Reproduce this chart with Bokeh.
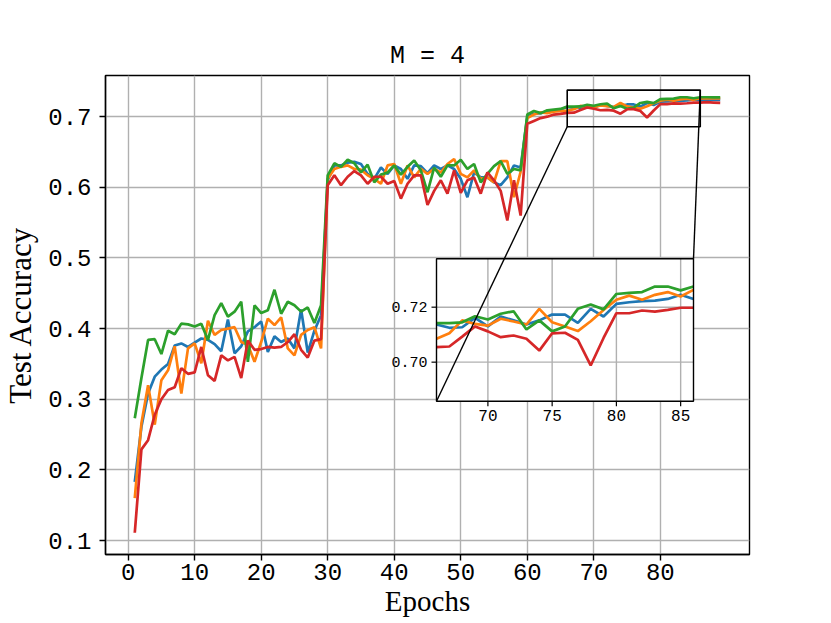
from bokeh.plotting import figure
from bokeh.models import Range1d, FixedTicker
from bokeh.core.properties import value
from bokeh.embed import file_html
from bokeh.resources import INLINE

# ---------------- data ----------------
epochs = list(range(1, 90))

blue = [0.183, 0.261, 0.308, 0.332, 0.342, 0.350, 0.376, 0.379, 0.374, 0.380,
        0.386, 0.384, 0.378, 0.368, 0.413, 0.365, 0.375, 0.396, 0.402, 0.410,
        0.367, 0.389, 0.381, 0.386, 0.372, 0.427, 0.366, 0.397, 0.419,
        0.610, 0.631, 0.631, 0.635, 0.636, 0.633, 0.619, 0.612, 0.628, 0.619,
        0.631, 0.626, 0.612, 0.631, 0.630, 0.620, 0.631, 0.626, 0.631, 0.626,
        0.612, 0.586, 0.621, 0.614, 0.614, 0.607, 0.603, 0.614, 0.631, 0.628,
        0.700, 0.704, 0.705, 0.707, 0.708, 0.710,
        0.7137, 0.7125, 0.7127, 0.7161, 0.7130, 0.7166, 0.7152, 0.7137, 0.7152, 0.7173,
        0.7173, 0.7143, 0.7194, 0.7166, 0.7212, 0.7218, 0.7222, 0.7224, 0.7230, 0.7245,
        0.7230, 0.7235, 0.7240, 0.7238]

orange = [0.160, 0.266, 0.320, 0.264, 0.327, 0.341, 0.375, 0.308, 0.372, 0.379,
          0.351, 0.411, 0.391, 0.398, 0.400, 0.402, 0.381, 0.377, 0.353, 0.381,
          0.414, 0.405, 0.416, 0.372, 0.362, 0.391, 0.398, 0.402, 0.372,
          0.612, 0.626, 0.629, 0.631, 0.626, 0.625, 0.617, 0.612, 0.605, 0.631,
          0.633, 0.605, 0.631, 0.614, 0.626, 0.619, 0.626, 0.621, 0.633, 0.640,
          0.619, 0.614, 0.624, 0.612, 0.614, 0.607, 0.637, 0.637, 0.586, 0.622,
          0.698, 0.703, 0.706, 0.705, 0.707, 0.708,
          0.7085, 0.7105, 0.7152, 0.7139, 0.7133, 0.7158, 0.7148, 0.7137, 0.7194, 0.7145,
          0.7130, 0.7113, 0.7149, 0.7190, 0.7227, 0.7242, 0.7227, 0.7245, 0.7255, 0.7239,
          0.7263, 0.7260, 0.7262, 0.7260]

green = [0.273, 0.330, 0.384, 0.385, 0.364, 0.397, 0.392, 0.407, 0.406, 0.403,
         0.407, 0.384, 0.419, 0.436, 0.417, 0.424, 0.438, 0.353, 0.433, 0.422,
         0.426, 0.455, 0.421, 0.438, 0.433, 0.424, 0.430, 0.408, 0.433,
         0.617, 0.634, 0.629, 0.639, 0.634, 0.621, 0.632, 0.607, 0.618, 0.621,
         0.631, 0.618, 0.629, 0.638, 0.624, 0.593, 0.628, 0.615, 0.631, 0.631,
         0.639, 0.626, 0.633, 0.607, 0.619, 0.630, 0.637, 0.619, 0.626, 0.624,
         0.703, 0.708, 0.705, 0.709, 0.710, 0.711,
         0.7142, 0.7142, 0.7145, 0.7167, 0.7155, 0.7176, 0.7185, 0.7119, 0.7152, 0.7112,
         0.7130, 0.7194, 0.7210, 0.7192, 0.7248, 0.7252, 0.7255, 0.7275, 0.7275, 0.7261,
         0.7275, 0.7275, 0.7272, 0.7272]

red = [0.111, 0.229, 0.242, 0.278, 0.300, 0.313, 0.317, 0.344, 0.336, 0.338,
       0.374, 0.334, 0.326, 0.362, 0.355, 0.360, 0.330, 0.383, 0.370, 0.371,
       0.374, 0.373, 0.374, 0.381, 0.392, 0.370, 0.359, 0.383, 0.385,
       0.603, 0.617, 0.603, 0.615, 0.623, 0.617, 0.605, 0.615, 0.615, 0.605,
       0.609, 0.584, 0.605, 0.617, 0.617, 0.575, 0.595, 0.610, 0.591, 0.624,
       0.592, 0.610, 0.614, 0.591, 0.621, 0.610, 0.595, 0.553, 0.610, 0.560,
       0.690, 0.694, 0.698, 0.700, 0.703, 0.704,
       0.7055, 0.7057, 0.7093, 0.7130, 0.7112, 0.7091, 0.7097, 0.7085, 0.7042, 0.7105,
       0.7107, 0.7081, 0.6988, 0.7088, 0.7178, 0.7178, 0.7188, 0.7184, 0.7190, 0.7198,
       0.7198, 0.7205, 0.7200, 0.7195]

series = [("blue", blue, "#1f77b4"), ("orange", orange, "#ff7f0e"),
          ("green", green, "#2ca02c"), ("red", red, "#d62728")]

x_ticks = [0, 10, 20, 30, 40, 50, 60, 70, 80]
y_ticks = [0.1, 0.2, 0.3, 0.4, 0.5, 0.6, 0.7]
inset_x_ticks = [70, 75, 80, 85]
inset_y_ticks = [0.70, 0.72]
inset_y_tick_labels = ["0.70", "0.72"]
title_text = "M = 4"
x_label = "Epochs"
y_label = "Test Accuracy"

# zoomed region (data units)
IX0, IX1 = 66, 86
IY0, IY1 = 0.6858, 0.7376

# ---------------- layout ----------------
FW, FH = 644, 479
X0, X1 = -3.4, 93.4
Y0, Y1 = 0.0802, 0.7583
# inset rectangle inside the frame, pixels from frame left / top
L, R, T, B = 331.0, 588.0, 183.3, 325.7

sx = (R - L) / (IX1 - IX0)
sy = (B - T) / (IY1 - IY0)
ixs, ixe = IX0 - L / sx, IX1 + (FW - R) / sx
iys, iye = IY0 - (FH - B) / sy, IY1 + T / sy


def mx(px):
    return X0 + px / FW * (X1 - X0)


def my(py):
    return Y1 - py / FH * (Y1 - Y0)


MONO = "Liberation Mono"
SERIF = "Liberation Serif"

p = figure(frame_width=FW, frame_height=FH,
           x_range=Range1d(X0, X1), y_range=Range1d(Y0, Y1),
           output_backend="svg", toolbar_location=None,
           min_border_left=104, min_border_right=75,
           min_border_top=75, min_border_bottom=60)
p.background_fill_color = "white"
p.border_fill_color = "white"
p.outline_line_color = "black"
p.outline_line_width = 1.4
p.outline_line_alpha = 1.0

p.title.text = title_text
p.title.align = "center"
p.title.text_font = MONO
p.title.text_font_size = "25px"
p.title.text_font_style = "normal"
p.title.text_color = "black"
p.title.standoff = 10

p.extra_x_ranges = {"ix": Range1d(ixs, ixe)}
p.extra_y_ranges = {"iy": Range1d(iys, iye)}

for ax in (p.xaxis[0], p.yaxis[0]):
    ax.axis_line_color = "black"
    ax.axis_line_width = 1.4
    ax.major_tick_line_color = "black"
    ax.major_tick_line_width = 1.4
    ax.major_tick_out = 6
    ax.major_tick_in = 0
    ax.minor_tick_line_color = None
    ax.major_label_text_font = MONO
    ax.major_label_text_font_size = "24px"
    ax.major_label_text_color = "black"
    ax.axis_label_text_font = SERIF
    ax.axis_label_text_font_style = "normal"
    ax.axis_label_text_color = "black"
p.xaxis.ticker = FixedTicker(ticks=x_ticks)
p.yaxis.ticker = FixedTicker(ticks=y_ticks)
p.xaxis.major_label_standoff = 3
p.yaxis.major_label_standoff = 8
p.xaxis.axis_label = x_label
p.xaxis.axis_label_text_font_size = "29px"
p.xaxis.axis_label_standoff = 2
p.yaxis.axis_label = y_label
p.yaxis.axis_label_text_font_size = "31px"
p.yaxis.axis_label_standoff = 7

p.xgrid.ticker = FixedTicker(ticks=x_ticks)
p.ygrid.ticker = FixedTicker(ticks=y_ticks)
p.grid.grid_line_color = "#b0b0b0"
p.grid.grid_line_width = 1.4
p.grid.grid_line_alpha = 1.0

# main lines
for name, vals, col in series:
    p.line(epochs, vals, line_color=col, line_width=2.7)

# inset background
p.quad(left=[IX0], right=[IX1], bottom=[IY0], top=[IY1],
       fill_color="white", line_color=None,
       x_range_name="ix", y_range_name="iy")
# inset grid
p.segment(x0=inset_x_ticks, x1=inset_x_ticks,
          y0=[IY0] * len(inset_x_ticks), y1=[IY1] * len(inset_x_ticks),
          line_color="#b0b0b0", line_width=1.4,
          x_range_name="ix", y_range_name="iy")
p.segment(x0=[IX0] * len(inset_y_ticks), x1=[IX1] * len(inset_y_ticks),
          y0=inset_y_ticks, y1=inset_y_ticks,
          line_color="#b0b0b0", line_width=1.4,
          x_range_name="ix", y_range_name="iy")

# inset lines
sel = [i for i, e in enumerate(epochs) if IX0 <= e <= IX1]
ie = [epochs[i] for i in sel]
for name, vals, col in series:
    p.line(ie, [vals[i] for i in sel], line_color=col, line_width=2.7,
           x_range_name="ix", y_range_name="iy")

# inset frame
p.quad(left=[IX0], right=[IX1], bottom=[IY0], top=[IY1],
       fill_color=None, line_color="black", line_width=1.4,
       x_range_name="ix", y_range_name="iy")
# inset ticks
tl = 5
p.segment(x0=[IX0 - tl / sx] * len(inset_y_ticks), x1=[IX0] * len(inset_y_ticks),
          y0=inset_y_ticks, y1=inset_y_ticks, line_color="black", line_width=1.2,
          x_range_name="ix", y_range_name="iy")
p.segment(x0=inset_x_ticks, x1=inset_x_ticks,
          y0=[IY0 - tl / sy] * len(inset_x_ticks), y1=[IY0] * len(inset_x_ticks),
          line_color="black", line_width=1.2,
          x_range_name="ix", y_range_name="iy")
p.text(x=[IX0] * len(inset_y_ticks), y=inset_y_ticks, text=inset_y_tick_labels,
       x_offset=-9, text_align="right", text_baseline="middle",
       text_font=value(MONO), text_font_size="15px", text_color="black",
       x_range_name="ix", y_range_name="iy")
p.text(x=inset_x_ticks, y=[IY0] * len(inset_x_ticks),
       text=[str(t) for t in inset_x_ticks],
       y_offset=9, text_align="center", text_baseline="top",
       text_font=value(MONO), text_font_size="16px", text_color="black",
       x_range_name="ix", y_range_name="iy")

# zoom box in main axes
p.quad(left=[IX0], right=[IX1], bottom=[IY0], top=[IY1],
       fill_color=None, line_color="black", line_width=1.6)
# connectors
p.segment(x0=[IX0, IX1], y0=[IY0, IY1], x1=[mx(L), mx(R)], y1=[my(B), my(T)],
          line_color="black", line_width=1.4)

open("out.html", "w").write(file_html(p, INLINE))
